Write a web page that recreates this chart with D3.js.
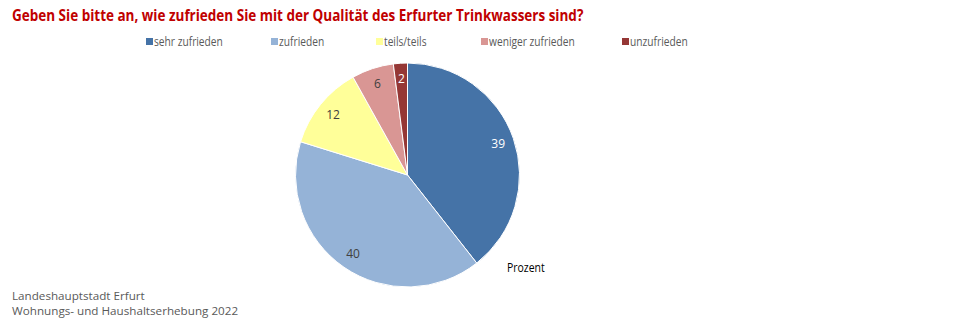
<!DOCTYPE html>
<html><head><meta charset="utf-8">
<script src="https://cdn.jsdelivr.net/npm/d3@7"></script>
<style>
body{margin:0;background:#fff;}
text{font-family:"Open Sans",sans-serif;}
</style></head>
<body><svg id="c" width="960" height="330"></svg>
<script>
const title = "Geben Sie bitte an, wie zufrieden Sie mit der Qualität des Erfurter Trinkwassers sind?";
const categories = ["sehr zufrieden","zufrieden","teils/teils","weniger zufrieden","unzufrieden"];
const values = [39,40,12,6,2];
const colors = ["#4573a7","#95b3d7","#ffff99","#d99694","#953735"];
const labelColors = ["#ffffff","#404040","#404040","#404040","#ffffff"];
const legendX = [146,271,376,481,622];
const footer = ["Landeshauptstadt Erfurt","Wohnungs- und Haushaltserhebung 2022"];
const unitLabel = "Prozent";

const svg = d3.select("#c");
function condense(sel,k){
  sel.each(function(){const w=this.getComputedTextLength();
    d3.select(this).attr("textLength",w*k).attr("lengthAdjust","spacingAndGlyphs");});
}
svg.append("text").attr("x",12).attr("y",21).attr("fill","#c00000")
  .attr("font-size",16).attr("font-weight","bold").text(title).call(condense,0.843);

const lg = svg.append("g");
categories.forEach((c,i)=>{
  lg.append("rect").attr("x",legendX[i]).attr("y",38).attr("width",7).attr("height",7).attr("fill",colors[i]);
  lg.append("text").attr("x",legendX[i]+8).attr("y",46).attr("font-size",12).attr("fill","#595959").text(c).call(condense,0.85);
});

const cx=407.5, cy=175, R=112;
const pie = d3.pie().sort(null).value(d=>d);
const arcs = pie(values);
const arc = d3.arc().innerRadius(0).outerRadius(R);
const lab = d3.arc().innerRadius(96).outerRadius(96);
const g = svg.append("g").attr("transform",`translate(${cx},${cy})`);
g.selectAll("path").data(arcs).join("path").attr("d",arc).attr("fill",(d,i)=>colors[i])
  .attr("stroke","#fff").attr("stroke-width",1);
g.selectAll("text.l").data(arcs).join("text").attr("class","l")
  .attr("transform",d=>`translate(${lab.centroid(d)})`)
  .attr("text-anchor","middle").attr("dy","0.35em").attr("font-size",12)
  .attr("fill",(d,i)=>labelColors[i]).text(d=>d.data);

svg.append("text").attr("x",507).attr("y",272).attr("font-size",12).attr("fill","#000").text(unitLabel).call(condense,0.87);
footer.forEach((f,i)=>svg.append("text").attr("x",12).attr("y",300+i*15).attr("font-size",11).attr("fill","#595959").text(f).call(condense,1.06));
</script></body></html>
